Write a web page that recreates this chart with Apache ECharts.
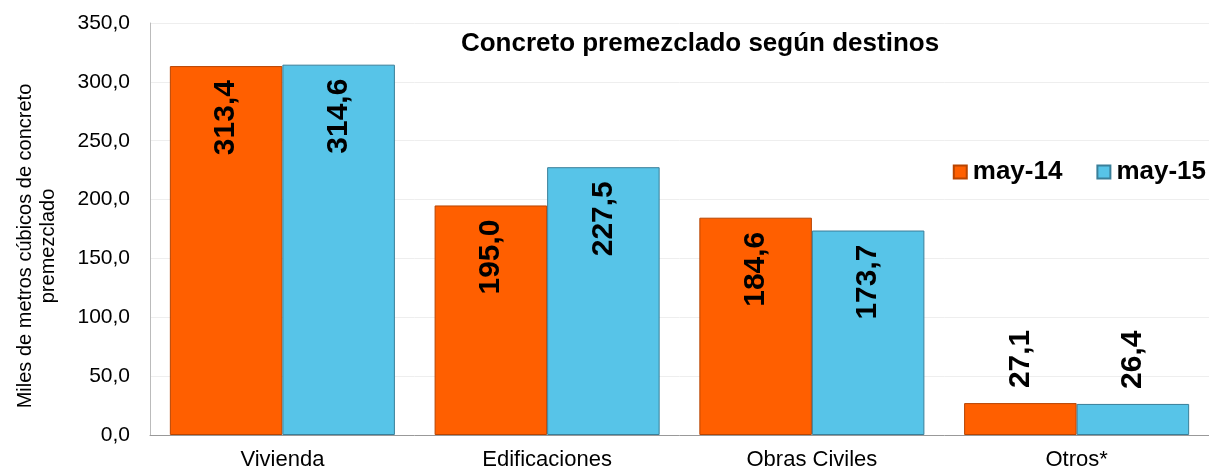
<!DOCTYPE html>
<html>
<head>
<meta charset="utf-8">
<script src="https://cdn.jsdelivr.net/npm/echarts@6/dist/echarts.min.js"></script>
<style>
  html, body { margin: 0; padding: 0; background: #fff; }
  #chart { width: 1209px; height: 470px; }
</style>
</head>
<body>
<div id="chart"></div>
<script>
const categories = ['Vivienda', 'Edificaciones', 'Obras Civiles', 'Otros*'];
const may14 = [313.4, 195.0, 184.6, 27.1];
const may15 = [314.6, 227.5, 173.7, 26.4];

const fmt = v => v.toFixed(1).replace('.', ',');
const FONT = 'Liberation Sans, Arial, sans-serif';

// tall bars get the label inside, short ones above
const labelFor = (v) => {
  if (v > 100) {
    return { position: 'insideTop', distance: 14, align: 'right', verticalAlign: 'middle' };
  }
  return { position: 'top', distance: 15, align: 'left', verticalAlign: 'middle' };
};

const makeData = (arr) => arr.map(v => ({ value: v, label: labelFor(v) }));

const chart = echarts.init(document.getElementById('chart'));

const labelStyle = {
  show: true,
  rotate: 90,
  color: '#000',
  fontFamily: FONT,
  fontWeight: 'bold',
  fontSize: 30,
  formatter: p => fmt(p.value)
};

chart.setOption({
  animation: false,
  title: {
    text: 'Concreto premezclado según destinos',
    left: 695,
    top: 26,
    textAlign: 'center',
    textStyle: { fontFamily: FONT, fontWeight: 'bold', fontSize: 26, color: '#000' }
  },
  legend: {
    right: -2,
    top: 154,
    itemWidth: 13,
    itemHeight: 13,
    itemGap: 34,
    icon: 'rect',
    textStyle: { fontFamily: FONT, fontWeight: 'bold', fontSize: 26, color: '#000', padding: [0, 0, 0, 1] },
    data: ['may-14', 'may-15']
  },
  grid: { left: 150, right: 0, top: 23, bottom: 35, outerBoundsMode: 'none' },
  xAxis: {
    type: 'category',
    data: categories,
    axisLine: { lineStyle: { color: '#999', width: 1 } },
    axisTick: { inside: true, length: 6, lineStyle: { color: '#999' } },
    axisLabel: { color: '#000', fontFamily: FONT, fontSize: 22, margin: 14 }
  },
  yAxis: {
    type: 'value',
    min: 0,
    max: 350,
    interval: 50,
    name: 'Miles de metros cúbicos de concreto\npremezclado',
    nameLocation: 'middle',
    nameGap: 90,
    nameTextStyle: { color: '#000', fontFamily: FONT, fontSize: 20, lineHeight: 23, padding: [0, 34, 0, 0] },
    axisLine: { show: true, lineStyle: { color: '#bbb' } },
    axisTick: { show: false },
    splitLine: { lineStyle: { color: '#eeeeee' } },
    axisLabel: { color: '#000', fontFamily: FONT, fontSize: 21, margin: 20, formatter: v => fmt(v) }
  },
  series: [
    {
      name: 'may-14',
      type: 'bar',
      data: makeData(may14),
      barGap: '0%',
      barCategoryGap: '15%',
      itemStyle: { color: '#FF5F00', borderColor: '#B84400', borderWidth: 1 },
      label: labelStyle
    },
    {
      name: 'may-15',
      type: 'bar',
      data: makeData(may15),
      itemStyle: { color: '#57C4E8', borderColor: '#3A7F99', borderWidth: 1 },
      label: labelStyle
    }
  ]
});
</script>
</body>
</html>
